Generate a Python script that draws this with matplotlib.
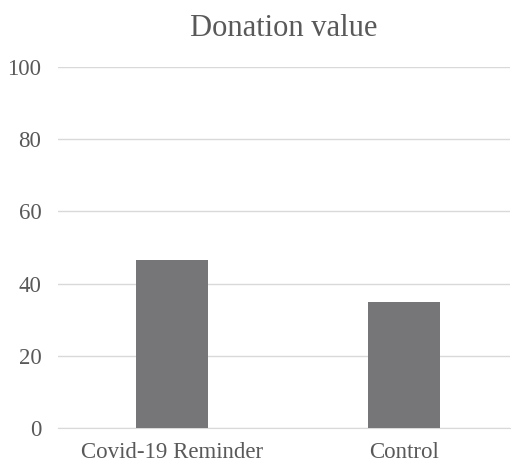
import matplotlib.pyplot as plt

categories = ["Covid-19 Reminder", "Control"]
values = [46.5, 35.0]
yticks = [0, 20, 40, 60, 80, 100]

plt.rcParams['font.family'] = ['Liberation Serif', 'DejaVu Serif']
fig = plt.figure(figsize=(5.2, 4.72), dpi=100)
ax = fig.add_axes([0.1115, 0.0932, 0.8695, 0.765])

x = range(len(categories))
ax.bar(x, values, width=0.31, color="#767679", zorder=3)
ax.set_xlim(-0.491, 1.457)
ax.set_ylim(0, 100)
ax.set_yticks(yticks)
ax.set_xticks(list(x))
ax.set_xticklabels(categories)
ax.grid(axis='y', color="#d9d9d9", linewidth=1, zorder=0)
for s in ['top', 'right', 'left']:
    ax.spines[s].set_visible(False)
ax.spines['bottom'].set_color("#d9d9d9")
ax.tick_params(axis='y', length=0, labelsize=16.5, colors="#595959", pad=12)
ax.tick_params(axis='x', length=0, labelsize=16.5, colors="#595959", pad=10)
ax.set_title("Donation value", fontsize=22, color="#595959", pad=22)

fig.savefig("out.png", dpi=100)
